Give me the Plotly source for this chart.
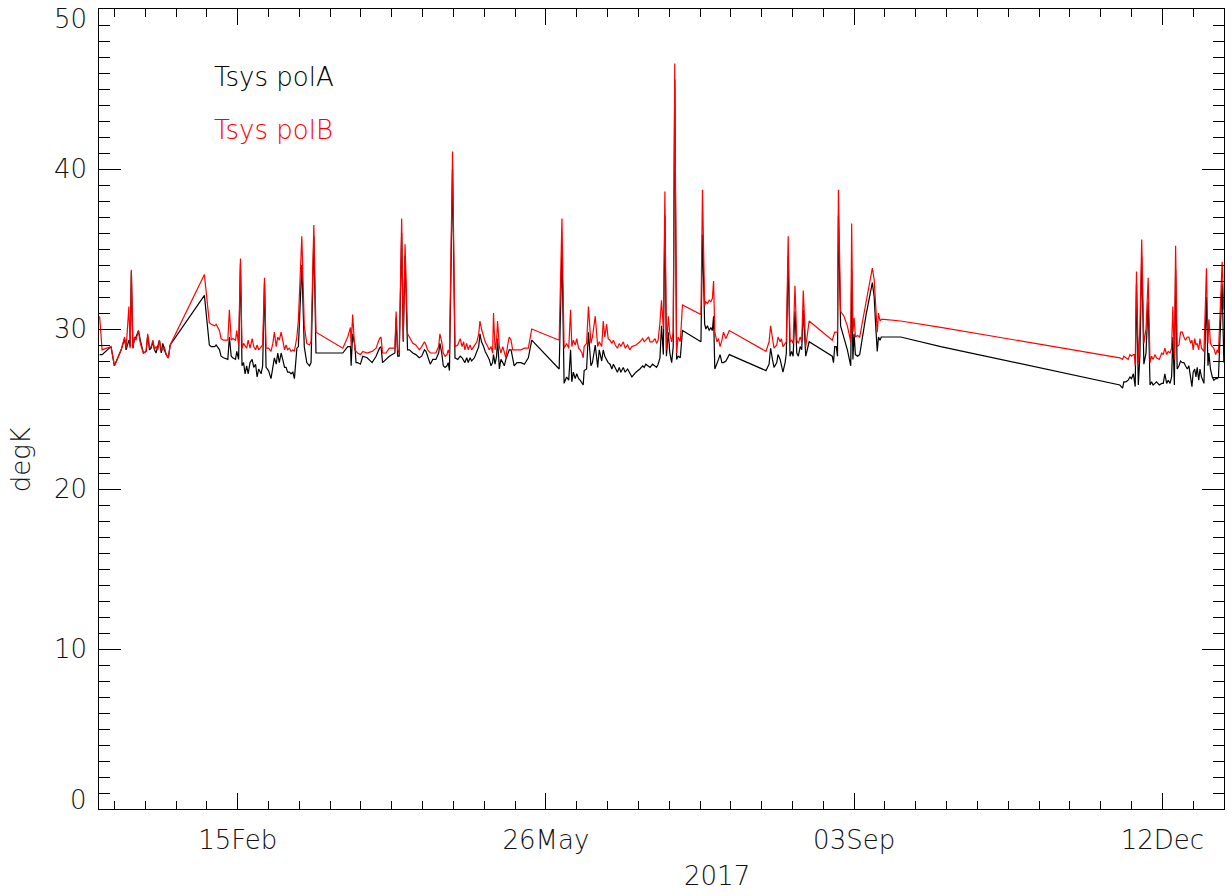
import pandas as pd
import plotly.graph_objects as go

# Days since 2017-01-01 (fractional)
day_of_year = [
    0.2, 1.0, 3.9, 5.0, 7.2, 8.3, 8.8, 9.7, 10.1, 10.5, 11.0, 11.5, 12.0, 12.8, 13.4, 13.9, 14.4, 15.3,
    15.8, 16.4, 16.9, 17.5, 18.0, 18.5, 19.1, 19.6, 20.2, 20.7, 21.2, 21.8, 22.5, 23.1,
    34.2, 35.8, 36.4, 37.5, 38.0, 39.1, 39.6, 40.4, 41.8, 42.3, 42.9, 43.4, 44.3, 44.7, 45.3, 45.9,
    46.4, 46.9, 47.4, 47.9, 48.4, 49.0, 49.7, 50.2, 50.8, 51.3, 51.8, 52.6, 53.1, 53.7, 54.2, 55.0,
    55.8, 56.4, 56.9, 57.5, 58.0, 58.5, 59.1, 59.6, 60.2, 60.7, 61.2, 61.8, 62.3, 62.9, 63.4, 64.2,
    64.7, 65.8, 66.6, 67.4, 68.3, 68.8, 69.7, 70.4,
    79.1, 80.7, 81.6, 81.8, 82.3, 83.0, 83.4, 83.9, 84.8, 85.6, 87.0, 88.6, 89.9, 91.0, 91.5, 92.0,
    93.1, 94.2, 96.0, 96.4, 96.9, 97.4, 98.2, 98.7, 99.3, 100.1, 100.7, 101.8, 102.8, 103.9, 104.7,
    105.6, 106.1, 106.6, 107.5, 108.3, 109.3, 110.2, 110.6, 111.2, 111.7, 112.3, 112.9, 113.3, 113.7,
    114.7, 115.5, 116.4, 117.2, 117.8, 118.3, 118.7, 119.3, 119.8, 120.4, 120.9, 121.8, 122.6, 123.2,
    123.6, 124.1, 124.8, 125.3, 126.1, 126.6, 127.2, 127.7, 128.0, 128.5, 129.0, 129.3, 129.9, 130.4,
    131.0, 131.5, 132.0, 132.6, 133.1, 133.7, 134.2, 134.7, 135.6, 136.9, 138.0, 139.3, 140.4,
    149.3, 150.2, 150.9, 151.7, 152.4, 153.0, 153.4, 153.9, 154.5, 155.0, 155.6, 156.1, 156.7, 157.1,
    157.4, 158.2, 158.8, 159.6, 160.1, 161.0, 161.8, 162.3, 163.1, 163.6, 164.1, 164.7, 165.2, 165.8,
    166.4, 166.9, 167.5, 168.2, 168.8, 169.3, 170.1, 170.7, 171.5, 172.2, 172.9, 174.2, 175.5, 176.4,
    176.9, 177.4, 178.3, 178.8, 179.6, 180.4, 180.9, 181.4, 182.0, 182.5, 183.1, 183.6, 184.1, 184.7,
    185.2, 185.8, 186.3, 186.8, 187.4, 187.9, 188.6, 189.3,
    195.3, 195.8, 196.5, 196.9, 197.4, 198.0, 198.5, 199.0, 199.4, 199.8, 200.5, 201.0, 201.5, 202.1,
    202.6, 203.4, 204.5,
    216.4, 217.4, 217.9, 218.5, 219.0, 219.9, 220.3, 221.0, 221.4, 221.9, 222.6, 223.0, 223.6, 224.2,
    224.7, 225.2, 225.8, 226.4, 226.9, 227.5, 228.0, 228.5, 229.3, 230.4,
    237.9, 238.3, 238.7, 239.2, 239.6, 239.9, 240.6, 241.7, 242.8, 243.9, 244.2, 244.6, 245.0, 245.4,
    246.1, 246.8, 248.8, 250.9, 251.5, 252.0, 252.5, 252.9, 253.4, 253.8, 254.7, 260.1, 273.1,
    331.2, 332.1, 332.5, 333.2, 333.9, 334.5, 335.0, 335.6, 335.9, 336.2, 336.6, 337.2, 337.7, 338.3,
    339.0, 339.7, 340.4, 341.0, 341.5, 342.0, 342.6, 343.1, 344.0, 344.8, 345.3, 345.8, 346.4, 346.9,
    347.5, 348.0, 348.4, 348.9, 349.3, 349.8, 350.4, 350.9, 351.5, 352.0, 352.5, 353.1, 353.6, 354.2,
    354.6, 355.0, 355.5, 355.9, 356.3, 356.8, 357.2, 357.7, 358.5, 359.3, 359.8, 360.1, 360.6, 361.2,
    361.7, 362.3, 362.8, 363.2, 363.9, 364.4, 364.95,
]

tsys_pola = [
    28.4, 28.4, 28.9, 27.7, 28.7, 29.4, 28.7, 29.3, 28.9, 33.6, 28.8, 29.4, 29.5, 29.9, 29.3, 28.8, 28.5, 28.6,
    29.6, 28.7, 28.8, 29.2, 28.7, 28.5, 28.9, 29.3, 28.5, 29.1, 28.7, 28.4, 28.2, 29.0,
    32.1, 29.0, 28.9, 28.9, 29.0, 28.7, 28.3, 28.2, 28.1, 29.5, 28.3, 28.2, 28.1, 28.6, 28.1, 34.1,
    27.7, 27.9, 27.2, 27.7, 27.2, 27.9, 28.1, 27.6, 27.8, 27.0, 27.5, 27.2, 27.7, 32.9, 27.6, 27.4,
    26.9, 27.8, 28.2, 27.8, 28.5, 27.9, 28.5, 28.1, 27.6, 27.6, 27.3, 27.3, 27.2, 27.3, 26.9, 28.8,
    28.9, 34.0, 28.9, 27.9, 27.7, 27.9, 35.8, 28.5,
    28.5, 28.9, 28.9, 27.7, 29.7, 29.0, 27.9, 27.9, 27.8, 28.3, 28.2, 27.9, 28.3, 28.8, 28.9, 27.9,
    28.1, 28.3, 28.5, 30.7, 28.3, 28.3, 36.0, 29.2, 34.6, 28.7, 28.7, 28.5, 28.4, 28.2, 28.3,
    28.7, 28.6, 28.3, 27.8, 28.1, 28.1, 28.5, 29.1, 28.5, 27.7, 27.6, 27.7, 27.9, 27.4,
    40.0, 28.2, 28.1, 28.3, 28.2, 28.0, 27.9, 28.2, 27.9, 28.2, 28.0, 28.2, 28.6, 28.9,
    29.7, 29.2, 28.9, 28.6, 28.3, 28.1, 27.7, 27.9, 28.4, 27.8, 28.3, 29.4, 27.5, 28.1,
    27.9, 27.7, 28.1, 28.5, 28.7, 28.7, 28.3, 27.7, 27.9, 27.9, 27.8, 28.2, 29.3,
    27.5, 34.9, 26.6, 27.0, 26.8, 28.7, 26.7, 27.3, 26.9, 27.2, 26.9, 26.8, 26.6, 26.5,
    27.4, 27.5, 29.8, 27.7, 27.9, 29.0, 27.6, 28.7, 28.0, 28.7, 28.3, 28.1, 27.9, 27.8,
    27.5, 27.8, 27.6, 27.3, 27.6, 27.3, 27.6, 27.3, 27.5, 27.2, 27.0, 27.3, 27.5, 27.7,
    27.6, 27.8, 27.7, 27.6, 27.8, 27.7, 27.6, 27.8, 28.2, 30.2, 28.4, 37.1, 28.3, 29.8,
    28.5, 27.9, 28.9, 45.6, 28.1, 28.3, 28.2, 29.9,
    29.2, 35.9, 30.3, 30.0, 30.2, 29.9, 30.1, 29.9, 30.8, 27.5, 27.8, 28.1, 28.4, 27.9,
    27.9, 28.0, 28.4,
    27.4, 27.8, 28.8, 28.1, 27.6, 27.9, 28.4, 28.1, 27.8, 27.3, 27.9, 28.5, 34.6, 28.3,
    28.6, 28.3, 31.1, 28.5, 28.3, 28.9, 28.7, 31.2, 28.3, 29.2,
    28.3, 27.9, 28.9, 28.9, 28.3, 37.1, 30.2, 29.5, 28.7, 27.7, 33.7, 28.1, 29.7, 28.4,
    28.3, 28.4, 30.8, 32.9, 32.0, 30.2, 28.6, 29.5, 29.3, 29.5, 29.5, 29.5, 28.9,
    26.5, 26.3, 26.7, 26.7, 26.8, 27.0, 26.9, 27.2, 26.9, 26.4, 32.8, 26.5, 28.3, 34.5,
    27.8, 28.5, 31.7, 26.5, 26.7, 26.5, 26.6, 26.7, 26.5, 26.6, 26.6, 27.2, 26.6, 26.8,
    26.6, 27.0, 29.5, 26.5, 33.7, 27.5, 27.7, 28.0, 27.9, 27.9, 27.7, 27.5, 27.7, 27.0,
    26.4, 27.3, 27.5, 27.0, 27.6, 26.8, 27.5, 27.0, 26.6, 32.0, 27.7, 28.5, 27.5, 27.0,
    26.8, 26.9, 26.9, 27.0, 30.6, 32.8, 27.9,
]

tsys_polb = [
    30.8, 28.7, 28.9, 27.7, 28.7, 29.5, 28.8, 31.4, 28.8, 33.7, 28.8, 29.5, 29.3, 29.9, 29.1, 28.8, 28.5, 28.6,
    29.7, 28.8, 28.9, 29.3, 28.7, 28.9, 28.7, 29.3, 28.7, 28.7, 28.9, 28.4, 28.2, 29.0,
    33.4, 30.4, 30.3, 30.2, 30.3, 29.9, 29.4, 29.3, 29.3, 31.2, 29.3, 29.4, 29.3, 29.9, 29.0, 34.4,
    28.8, 29.1, 28.9, 28.8, 29.3, 28.8, 29.4, 28.9, 28.7, 29.0, 28.7, 28.9, 29.0, 33.2, 28.8, 28.8,
    28.6, 29.1, 29.8, 28.9, 29.5, 29.3, 29.8, 29.3, 28.7, 29.0, 28.7, 28.8, 28.6, 28.7, 28.6, 29.5,
    30.6, 35.8, 30.2, 29.1, 29.0, 29.2, 36.5, 29.8,
    28.8, 29.5, 30.1, 28.9, 30.9, 28.7, 28.6, 28.5, 28.4, 28.6, 28.5, 28.6, 28.8, 29.4, 29.5, 28.5,
    28.5, 28.8, 28.8, 31.1, 28.7, 28.5, 36.9, 29.3, 35.3, 29.7, 29.5, 29.1, 29.0, 28.7, 28.9,
    29.2, 29.0, 28.7, 28.5, 28.5, 28.5, 28.9, 29.7, 29.2, 28.5, 28.3, 28.4, 28.7, 28.4,
    41.1, 28.9, 29.0, 29.4, 28.9, 29.2, 28.7, 29.1, 28.7, 29.0, 28.7, 29.0, 29.2, 29.7,
    30.5, 30.0, 29.5, 29.2, 28.9, 28.7, 28.9, 28.5, 31.0, 28.7, 29.3, 30.5, 28.9, 28.5,
    28.9, 28.6, 28.2, 29.0, 29.5, 29.3, 28.7, 28.7, 28.7, 28.7, 28.8, 28.8, 30.0,
    29.3, 36.9, 28.8, 29.1, 28.8, 31.2, 28.9, 29.3, 29.0, 29.4, 28.8, 28.7, 28.5, 28.2,
    28.9, 29.1, 31.4, 29.1, 29.5, 30.8, 28.9, 29.2, 28.9, 30.5, 29.5, 30.3, 29.4, 29.3,
    29.1, 29.3, 29.0, 28.8, 29.1, 28.9, 29.2, 28.8, 29.0, 28.7, 28.9, 29.0, 29.2, 29.4,
    29.2, 29.3, 29.5, 29.2, 29.2, 29.4, 29.1, 29.3, 30.4, 31.8, 30.0, 38.6, 28.7, 30.8,
    29.7, 29.2, 29.8, 46.6, 28.5, 29.5, 29.2, 31.5,
    30.9, 38.7, 31.5, 31.7, 31.6, 31.8, 31.7, 31.9, 33.0, 29.8, 29.2, 29.4, 28.9, 29.3,
    29.8, 29.4, 29.9,
    28.6, 29.2, 30.2, 29.3, 28.8, 29.0, 29.5, 29.2, 29.4, 28.9, 29.1, 29.2, 35.8, 29.2,
    29.3, 29.1, 32.7, 29.3, 29.1, 29.5, 29.2, 32.4, 28.9, 30.5,
    29.3, 29.6, 29.8, 29.8, 29.8, 38.7, 31.1, 30.8, 30.2, 29.2, 36.6, 29.8, 30.7, 29.5,
    29.6, 29.5, 31.6, 33.8, 33.1, 31.6, 29.8, 31.0, 30.5, 30.6, 30.6, 30.5, 30.1,
    28.2, 28.1, 28.3, 28.2, 28.1, 28.4, 28.3, 28.4, 28.4, 27.7, 33.6, 27.9, 30.0, 35.6,
    29.1, 30.0, 33.2, 27.9, 28.3, 28.1, 28.4, 28.2, 28.1, 28.5, 28.4, 28.8, 28.4, 28.6,
    28.5, 28.8, 31.4, 28.1, 35.2, 28.9, 29.0, 29.8, 29.8, 29.5, 29.3, 29.5, 29.5, 29.1,
    29.3, 28.7, 29.4, 29.0, 29.1, 28.7, 29.4, 28.8, 28.6, 33.8, 29.1, 30.6, 29.1, 28.9,
    28.8, 28.4, 28.7, 28.5, 32.3, 34.2, 31.2,
]

series_names = ["Tsys polA", "Tsys polB"]
series_colors = ["black", "#ff0000"]
y_tick_values = [0, 10, 20, 30, 40, 50]
x_title = "2017"
y_title = "degK"

base = pd.Timestamp("2017-01-01")
dates = base + pd.to_timedelta(day_of_year, unit="D")

FONT = dict(family="DejaVu Sans", size=26, color="#111111", weight=200)
DAY_MS = 86400000

fig = go.Figure()
for vals, name, col in zip([tsys_pola, tsys_polb], series_names, series_colors):
    fig.add_trace(go.Scatter(x=dates, y=vals, mode="lines", name=name,
                             line=dict(color=col, width=1.2), showlegend=False,
                             hoverinfo="skip"))

fig.update_layout(
    width=1232, height=896,
    margin=dict(l=99, r=8, t=9, b=87),
    paper_bgcolor="white", plot_bgcolor="white",
    font=FONT,
)

fig.update_xaxes(
    type="date", range=["2017-01-01", "2018-01-01"],
    tick0="2017-02-15", dtick=100 * DAY_MS, tickformat="%d%b",
    ticks="inside", ticklen=16, tickwidth=1, tickcolor="black",
    minor=dict(ticks="inside", ticklen=8, tickwidth=1, tickcolor="black",
               tick0="2017-02-15", dtick=10 * DAY_MS),
    showline=True, linecolor="black", linewidth=1.3, mirror="ticks",
    showgrid=False, zeroline=False, ticklabelstandoff=8,
    tickfont=FONT,
)
fig.update_yaxes(
    range=[0, 50], tickvals=y_tick_values, showticklabels=False,
    ticks="inside", ticklen=22, tickwidth=1, tickcolor="black",
    minor=dict(ticks="inside", ticklen=11, tickwidth=1, tickcolor="black", dtick=1),
    showline=True, linecolor="black", linewidth=1.3, mirror="ticks",
    showgrid=False, zeroline=False,
)

# y tick labels (end labels nudged inward, as in the original)
for v in y_tick_values:
    shift = 9 if v == y_tick_values[0] else (-10 if v == y_tick_values[-1] else 0)
    fig.add_annotation(x=0, y=v, xref="paper", yref="y", text=str(v), showarrow=False,
                       xanchor="right", yanchor="middle", xshift=-10, yshift=shift, font=FONT)

# legend-style labels
fig.add_annotation(x=0.1004, y=0.915, xref="paper", yref="paper", text=series_names[0],
                   showarrow=False, xanchor="left", yanchor="middle",
                   font=dict(family="DejaVu Sans", size=26, color=series_colors[0], weight=200))
fig.add_annotation(x=0.1004, y=0.849, xref="paper", yref="paper", text=series_names[1],
                   showarrow=False, xanchor="left", yanchor="middle",
                   font=dict(family="DejaVu Sans", size=26, color=series_colors[1], weight=200))
# axis titles
fig.add_annotation(x=-0.0693, y=0.436, xref="paper", yref="paper", text=y_title, textangle=-90,
                   showarrow=False, xanchor="center", yanchor="middle", font=FONT)
fig.add_annotation(x=0.549, y=-0.084, xref="paper", yref="paper", text=x_title,
                   showarrow=False, xanchor="center", yanchor="middle", font=FONT)

fig.write_html("out.html", config={"displayModeBar": False},
               post_script="document.body.style.margin='0';document.body.style.overflow='hidden';")
